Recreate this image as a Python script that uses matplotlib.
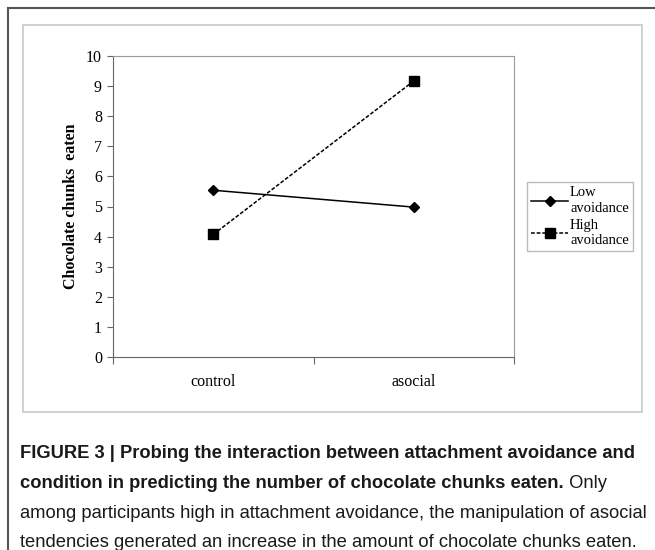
import matplotlib
matplotlib.use("Agg")
import matplotlib.pyplot as plt
from matplotlib.lines import Line2D
from matplotlib.patches import Rectangle

# data
conditions = ["control", "asocial"]
low_avoid = [5.54, 4.98]
high_avoid = [4.07, 9.17]
y_ticks = list(range(0, 11))

serif = "Liberation Serif"
cap_font = "Liberation Sans"

fig = plt.figure(figsize=(6.55, 5.5), dpi=100)

# outer frame (top and left edges) and the inner light box
fig.add_artist(Line2D([8 / 655, 1], [1 - 8 / 550, 1 - 8 / 550], color="#555555", lw=1.5))
fig.add_artist(Line2D([8 / 655, 8 / 655], [0, 1 - 8 / 550], color="#555555", lw=1.5))
fig.add_artist(Rectangle((23 / 655, 1 - 412 / 550), (642 - 23) / 655, (412 - 25) / 550,
                         fill=False, edgecolor="#c8c8c8", lw=1.2))

ax = fig.add_axes([113 / 655, 1 - 357 / 550, (514 - 113) / 655, (357 - 56) / 550])
x = [0.5, 1.5]
ax.plot(x, low_avoid, color="black", lw=1.1, marker="D", ms=5.5, label="Low\navoidance")
ax.plot(x, high_avoid, color="black", lw=1.1, ls=(0, (2.5, 1.2)), marker="s", ms=6.5,
        label="High\navoidance")

ax.set_xlim(0, 2)
ax.set_ylim(0, 10)
ax.set_yticks(y_ticks)
ax.set_yticklabels([str(v) for v in y_ticks], fontfamily=serif, fontsize=11.5)
ax.set_xticks([0, 1, 2])
ax.set_xticklabels([])
ax.set_xticks(x, minor=True)
ax.set_xticklabels(conditions, minor=True, fontfamily=serif, fontsize=11.5)
ax.tick_params(axis="x", which="major", length=5, color="#666666", direction="out")
ax.tick_params(axis="x", which="minor", length=0, pad=12)
ax.tick_params(axis="y", length=4, color="#666666", pad=4)
for s in ["left", "bottom"]:
    ax.spines[s].set_color("#666666")
for s in ["top", "right"]:
    ax.spines[s].set_color("#9a9a9a")
ax.set_ylabel("Chocolate chunks  eaten", fontfamily=serif, fontweight="bold", fontsize=11.5,
              labelpad=5)

leg = fig.legend(loc="upper left", bbox_to_anchor=(527 / 655, 1 - 182 / 550),
                 prop={"family": serif, "size": 10.5}, frameon=True, fancybox=False,
                 edgecolor="#aaaaaa", handlelength=2.5, handletextpad=0.15,
                 borderpad=0.3, labelspacing=0.25, borderaxespad=0)
leg.get_frame().set_linewidth(1.0)
for t in leg.get_texts():
    t.set_linespacing(1.25)

# caption
cap = dict(fontfamily=cap_font, fontsize=13.2, va="baseline", ha="left", color="#1a1a1a")
fig.text(20 / 655, 1 - 458 / 550,
         "FIGURE 3 | Probing the interaction between attachment avoidance and",
         fontweight="bold", **cap)
t2 = fig.text(20 / 655, 1 - 488 / 550,
              "condition in predicting the number of chocolate chunks eaten.",
              fontweight="bold", **cap)
fig.text(20 / 655, 1 - 518 / 550,
         "among participants high in attachment avoidance, the manipulation of asocial", **cap)
fig.text(20 / 655, 1 - 547 / 550,
         "tendencies generated an increase in the amount of chocolate chunks eaten.", **cap)
ax.annotate(" Only", xy=(1, 0), xycoords=t2, ha="left", va="bottom",
            fontfamily=cap_font, fontsize=13.2, color="#1a1a1a")

fig.savefig("out.png", dpi=100)
